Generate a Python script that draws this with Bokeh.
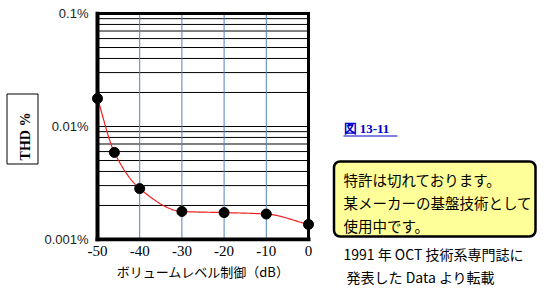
import numpy as np
from bokeh.plotting import figure
from bokeh.layouts import row
from bokeh.models import Range1d, FixedTicker, BoxAnnotation, Title
from bokeh.core.properties import value
from bokeh.embed import file_html
from bokeh.resources import INLINE

# ---- data ----
vol_db = [-50, -46, -40, -30, -20, -10, 0]
thd_pct = [0.0177, 0.0059, 0.00282, 0.00177, 0.00173, 0.00168, 0.00136]
x_ticks = [-50, -40, -30, -20, -10, 0]
x_tick_labels = ["-50", "-40", "-30", "-20", "-10", "0"]
y_ticks = [0.001, 0.01, 0.1]
y_tick_labels = ["0.001%", "0.01%", "0.1%"]
y_minor_mult = [2, 3, 4, 5, 6, 7, 8, 9]
x_label = "ボリュームレベル制御（dB）"
y_label = "THD %"
fig_title = "図 13-11"
note_lines = ["特許は切れております。", "某メーカーの基盤技術として", "使用中です。"]
source_lines = ["1991 年 OCT 技術系専門誌に", "発表した Data より転載"]

H = 294
TOP, BOT = 11, 53          # shared frame borders (row aligns frames)
JP = "Noto Sans CJK JP"
LW = 41                    # left panel width


def side_panel(width, x0):
    f = figure(width=width, height=H, x_range=Range1d(x0, x0 + width),
               y_range=Range1d(H - BOT, TOP), title=None,
               toolbar_location=None, output_backend="svg",
               min_border_left=0, min_border_right=0,
               min_border_top=TOP, min_border_bottom=BOT)
    f.axis.visible = False
    f.grid.visible = False
    f.outline_line_color = None
    return f


# ---- left panel: boxed y label ----
left = side_panel(LW, 0)
left.quad(left=6.5, right=37.5, top=93.5, bottom=163.5, fill_color="white",
          line_color="black", line_width=1)
left.text(x=[25], y=[136], text=[y_label], angle=np.pi / 2, text_align="center",
          text_baseline="middle", text_font=value("Liberation Serif"),
          text_font_style="bold", text_font_size="14px", text_color="black")

# ---- main chart ----
pad_x = 6 / 4.22
pad_y = 2 / 113.0
xmin, xmax = x_ticks[0], x_ticks[-1]
ymin, ymax = y_ticks[0], y_ticks[-1]
p = figure(width=330 - LW, height=H, y_axis_type="log", title=None,
           x_range=Range1d(xmin - pad_x, xmax + pad_x),
           y_range=Range1d(10 ** (np.log10(ymin) - pad_y), 10 ** (np.log10(ymax) + pad_y)),
           toolbar_location=None, output_backend="svg",
           min_border_left=91 - LW, min_border_right=16,
           min_border_top=TOP, min_border_bottom=BOT)
p.grid.visible = False
p.outline_line_color = None
p.background_fill_color = "white"

# horizontal grid (black) at minor decades
hvals = []
for d in y_ticks[:-1]:
    hvals += [d * m for m in y_minor_mult]
    hvals.append(d * 10)
hvals = hvals[:-1]
p.segment(x0=[xmin] * len(hvals), x1=[xmax] * len(hvals), y0=hvals, y1=hvals,
          line_color="black", line_width=1)
# vertical grid (blue)
vvals = x_ticks[1:-1]
p.segment(x0=vvals, x1=vvals, y0=[ymin] * len(vvals), y1=[ymax] * len(vvals),
          line_color="#4F81BD", line_width=1)

# smooth curve (monotone cubic in log space)
xs = np.array(vol_db, dtype=float)
ys = np.log10(np.array(thd_pct))
h = np.diff(xs)
d = np.diff(ys) / h
m = np.zeros_like(ys)
m[0], m[-1] = d[0], d[-1]
for k in range(1, len(xs) - 1):
    if d[k - 1] * d[k] <= 0:
        m[k] = 0
    else:
        w1 = 2 * h[k] + h[k - 1]
        w2 = h[k] + 2 * h[k - 1]
        m[k] = (w1 + w2) / (w1 / d[k - 1] + w2 / d[k])
cx, cy = [], []
for k in range(len(xs) - 1):
    t = np.linspace(0, 1, 30)
    h00 = 2 * t**3 - 3 * t**2 + 1
    h10 = t**3 - 2 * t**2 + t
    h01 = -2 * t**3 + 3 * t**2
    h11 = t**3 - t**2
    yy = h00 * ys[k] + h10 * h[k] * m[k] + h01 * ys[k + 1] + h11 * h[k] * m[k + 1]
    cx += list(xs[k] + t * h[k])
    cy += list(10 ** yy)
p.line(cx, cy, line_color="#F02020", line_width=1.2)

# frame
p.segment(x0=[xmin, xmin], x1=[xmax, xmin], y0=[ymin, ymin], y1=[ymin, ymax],
          line_color="black", line_width=4, line_cap="square")
p.segment(x0=[xmin, xmax], x1=[xmax, xmax], y0=[ymax, ymin], y1=[ymax, ymax],
          line_color="black", line_width=3, line_cap="square")

p.scatter(vol_db, thd_pct, size=10, fill_color="black", line_color="black")

p.xaxis.ticker = FixedTicker(ticks=x_ticks)
p.xaxis.major_label_overrides = {t: l for t, l in zip(x_ticks, x_tick_labels)}
p.yaxis.ticker = FixedTicker(ticks=y_ticks, minor_ticks=[])
p.yaxis.major_label_overrides = {t: l for t, l in zip(y_ticks, y_tick_labels)}
for ax in (p.xaxis, p.yaxis):
    ax.axis_line_color = None
    ax.major_tick_line_color = None
    ax.minor_tick_line_color = None
    ax.major_tick_out = 0
    ax.major_tick_in = 0
p.yaxis.axis_label_standoff = 0
p.xaxis.major_label_text_font = "Liberation Serif"
p.xaxis.major_label_text_font_size = "15px"
p.xaxis.major_label_text_color = "black"
p.xaxis.major_label_standoff = 4
p.yaxis.major_label_text_font = "Liberation Sans"
p.yaxis.major_label_text_font_size = "13px"
p.yaxis.major_label_text_color = "#222222"
p.yaxis.major_label_standoff = 3
p.xaxis.axis_label = x_label
p.xaxis.axis_label_text_font = JP
p.xaxis.axis_label_text_font_style = "normal"
p.xaxis.axis_label_text_font_size = "13px"
p.xaxis.axis_label_text_color = "black"
p.xaxis.axis_label_standoff = 3

# ---- right panel: notes ----
r = side_panel(220, 330)
r.text(x=[343], y=[128], text=[fig_title], text_align="left", text_baseline="middle",
       text_font=value("Liberation Serif"), text_font_style="bold",
       text_font_size="13px", text_color="#0000CC")
r.segment(x0=[343], x1=[397], y0=[135.5], y1=[135.5], line_color="#0000CC", line_width=1)
box = BoxAnnotation(left=333.5, right=535, top=161, bottom=236, fill_color="#FFFF99",
                    fill_alpha=1, line_color="black", line_alpha=1, line_width=2.5,
                    border_radius=6, level="underlay")
r.add_layout(box)
r.text(x=[343] * 3, y=[179, 202, 225], text=note_lines, text_align="left",
       text_baseline="middle", text_font=value(JP), text_font_size="14.5px",
       text_color="black")
for line, so, off in zip(source_lines, [0, 2], [13, 16]):
    r.add_layout(Title(text=line, align="left", offset=off, standoff=so,
                       text_font=JP, text_font_size="14px",
                       text_font_style="normal", text_color="black"), "below")

layout = row(left, p, r)
open("out.html", "w").write(file_html(layout, INLINE))
